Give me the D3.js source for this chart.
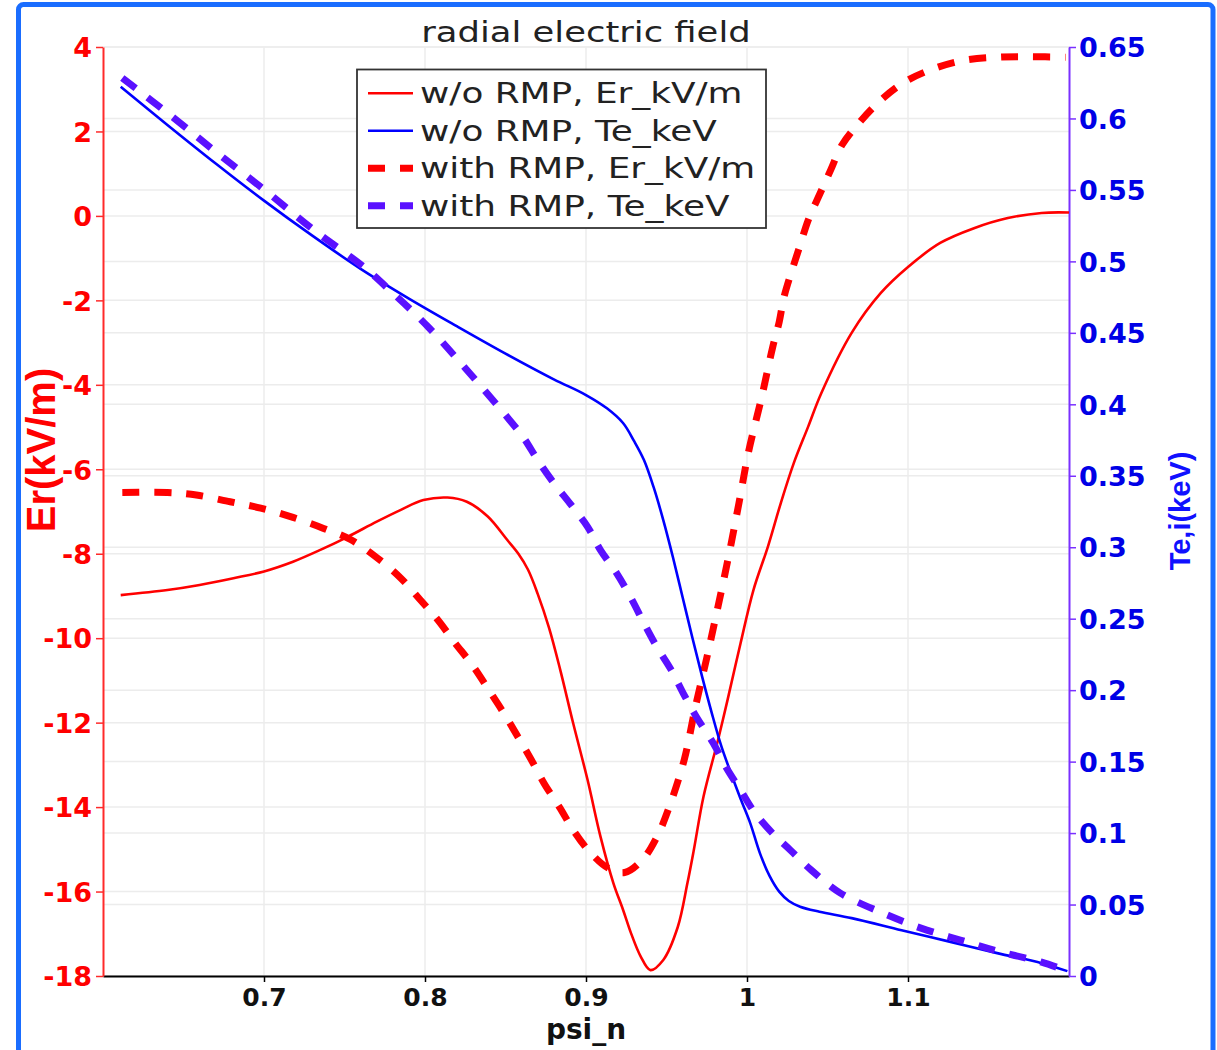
<!DOCTYPE html>
<html><head><meta charset="utf-8">
<script src="https://cdn.jsdelivr.net/npm/d3@7/dist/d3.min.js"></script>
<style>body{margin:0;background:#fff}svg{display:block}</style>
</head><body>
<svg id="c" width="1217" height="1050"></svg>
<script>
// ---- data ----
const psiErNoRmp = [0.611,0.640,0.660,0.681,0.700,0.718,0.735,0.752,0.770,0.785,0.799,0.814,0.826,0.839,0.851,0.858,0.864,0.870,0.877,0.884,0.892,0.901,0.909,0.917,0.923,0.928,0.934,0.940,0.948,0.957,0.963,0.967,0.973,0.982,0.988,0.996,1.004,1.013,1.021,1.029,1.038,1.046,1.065,1.083,1.100,1.120,1.141,1.162,1.183,1.200];
const erNoRmp    = [-8.98,-8.86,-8.74,-8.58,-8.42,-8.19,-7.91,-7.60,-7.24,-6.96,-6.73,-6.67,-6.77,-7.12,-7.67,-8.00,-8.38,-8.95,-9.75,-10.75,-12.01,-13.36,-14.70,-15.80,-16.43,-16.99,-17.54,-17.86,-17.62,-16.84,-15.80,-15.01,-13.75,-12.41,-11.45,-10.12,-8.86,-7.83,-6.80,-5.86,-4.99,-4.21,-2.77,-1.83,-1.21,-0.64,-0.29,-0.05,0.07,0.08];

const psiErRmp = [0.612,0.640,0.658,0.679,0.698,0.718,0.737,0.754,0.772,0.785,0.797,0.808,0.818,0.830,0.839,0.849,0.857,0.866,0.874,0.884,0.892,0.903,0.914,0.924,0.935,0.944,0.951,0.961,0.968,0.975,0.982,0.989,0.995,1.001,1.009,1.016,1.020,1.023,1.028,1.033,1.038,1.045,1.052,1.059,1.070,1.082,1.097,1.114,1.134,1.156,1.176,1.198];
const erRmp    = [-6.55,-6.55,-6.61,-6.77,-6.92,-7.14,-7.40,-7.67,-8.15,-8.58,-9.09,-9.57,-10.08,-10.67,-11.19,-11.78,-12.29,-12.88,-13.44,-14.03,-14.54,-15.09,-15.45,-15.55,-15.25,-14.71,-14.07,-12.88,-11.62,-10.47,-9.25,-7.98,-6.80,-5.58,-4.31,-3.10,-2.51,-1.92,-1.28,-0.69,-0.10,0.50,1.09,1.68,2.22,2.70,3.15,3.46,3.68,3.76,3.77,3.76];

const psiTeNoRmp = [0.611,0.640,0.670,0.700,0.730,0.760,0.790,0.820,0.850,0.880,0.900,0.913,0.923,0.930,0.936,0.942,0.948,0.954,0.960,0.966,0.972,0.978,0.984,0.990,0.996,1.002,1.008,1.014,1.020,1.026,1.033,1.045,1.065,1.096,1.127,1.158,1.183,1.199];
const teNoRmp    = [0.6222,0.5955,0.5685,0.5425,0.5180,0.4948,0.4740,0.4545,0.4355,0.4175,0.4065,0.3972,0.3869,0.3740,0.3610,0.3420,0.3190,0.2930,0.2650,0.2370,0.2100,0.1845,0.1610,0.1420,0.1240,0.1070,0.0860,0.0700,0.0590,0.0525,0.0485,0.0450,0.0405,0.0320,0.0237,0.0153,0.0090,0.0034];

const psiTeRmp = [0.612,0.644,0.671,0.702,0.731,0.762,0.778,0.802,0.826,0.851,0.861,0.870,0.880,0.890,0.901,0.909,0.919,0.928,0.936,0.944,0.953,0.961,0.969,0.979,0.987,0.996,1.005,1.017,1.027,1.040,1.058,1.083,1.108,1.133,1.158,1.183,1.199];
const teRmp    = [0.6283,0.6003,0.5758,0.5485,0.5219,0.4961,0.4800,0.4541,0.4240,0.3911,0.3770,0.3610,0.3449,0.3307,0.3143,0.2980,0.2819,0.2644,0.2469,0.2303,0.2140,0.1965,0.1805,0.1630,0.1461,0.1300,0.1140,0.0986,0.0880,0.0740,0.0580,0.0447,0.0335,0.0250,0.0167,0.0097,0.0034];

const xTicks = [0.7,0.8,0.9,1,1.1];
const xTickLabels = ["0.7","0.8","0.9","1","1.1"];
const erTicks = [-18,-16,-14,-12,-10,-8,-6,-4,-2,0,2,4];
const erTickLabels = ["-18","-16","-14","-12","-10","-8","-6","-4","-2","0","2","4"];
const teTicks = [0,0.05,0.1,0.15,0.2,0.25,0.3,0.35,0.4,0.45,0.5,0.55,0.6,0.65];
const teTickLabels = ["0","0.05","0.1","0.15","0.2","0.25","0.3","0.35","0.4","0.45","0.5","0.55","0.6","0.65"];
const legendLabels = ["w/o RMP, Er_kV/m","w/o RMP, Te_keV","with RMP, Er_kV/m","with RMP, Te_keV"];

// ---- drawing ----
const svg = d3.select("#c");
const X0=103, X1=1069, YT=47, YB=976;
const x = d3.scaleLinear().domain([0.6,1.2]).range([X0,X1]);
const yEr = d3.scaleLinear().domain([-18,4]).range([YB,YT]);
const yTe = d3.scaleLinear().domain([0,0.65]).range([YB,YT]);

const RED="#ff0000", BLUE="#0000ff", PURP="#5a10ff";
const FONT="'DejaVu Sans', sans-serif";

// frame
svg.append("rect").attr("x",18.5).attr("y",4.5).attr("width",1194.5).attr("height",1100)
  .attr("rx",5).attr("fill","none").attr("stroke","#1a6dff").attr("stroke-width",5);

// grid
const grid = svg.append("g").attr("stroke","#ececec").attr("stroke-width",1.5);
xTicks.forEach(t=>grid.append("line").attr("x1",x(t)).attr("x2",x(t)).attr("y1",YT).attr("y2",YB));
erTicks.forEach(t=>grid.append("line").attr("x1",X0).attr("x2",X1).attr("y1",yEr(t)).attr("y2",yEr(t)));
teTicks.forEach(t=>grid.append("line").attr("x1",X0).attr("x2",X1).attr("y1",yTe(t)).attr("y2",yTe(t)));

// axes
const axB = d3.axisBottom(x).tickValues(xTicks).tickFormat((d,i)=>xTickLabels[i]).tickSize(6).tickSizeOuter(0);
const gB = svg.append("g").attr("transform",`translate(0,${YB})`).call(axB);
gB.select(".domain").attr("stroke","#000").attr("stroke-width",2);
gB.selectAll(".tick line").attr("stroke","#000").attr("stroke-width",1.5);
gB.selectAll(".tick text").attr("font-family",FONT).attr("font-weight","bold").attr("font-size",25).attr("fill","#111").attr("dy","0.85em");

const axL = d3.axisLeft(yEr).tickValues(erTicks).tickFormat((d,i)=>erTickLabels[i]).tickSize(7).tickSizeOuter(0);
const gL = svg.append("g").attr("transform",`translate(${X0},0)`).call(axL);
gL.select(".domain").attr("stroke","#ff2a2a").attr("stroke-width",2);
gL.selectAll(".tick line").attr("stroke","#ff2a2a").attr("stroke-width",1.5);
gL.selectAll(".tick text").attr("font-family",FONT).attr("font-weight","bold").attr("font-size",27).attr("fill",RED).attr("x",-11).attr("dy","0.36em");

const axR = d3.axisRight(yTe).tickValues(teTicks).tickFormat((d,i)=>teTickLabels[i]).tickSize(7).tickSizeOuter(0);
const gR = svg.append("g").attr("transform",`translate(${X1},0)`).call(axR);
gR.select(".domain").attr("stroke","#7a30ff").attr("stroke-width",2);
gR.selectAll(".tick line").attr("stroke","#7a30ff").attr("stroke-width",1.5);
gR.selectAll(".tick text").attr("font-family",FONT).attr("font-weight","bold").attr("font-size",27).attr("fill","#0000e6").attr("x",10).attr("dy","0.36em");

// curves
const mk = (xs,ys,ys_) => xs.map((v,i)=>[x(v),ys_(ys[i])]);
const line = d3.line().curve(d3.curveCatmullRom.alpha(0.5));
svg.append("path").attr("d",line(mk(psiErNoRmp,erNoRmp,yEr))).attr("fill","none").attr("stroke",RED).attr("stroke-width",2.6);
svg.append("path").attr("d",line(mk(psiErRmp,erRmp,yEr))).attr("fill","none").attr("stroke",RED).attr("stroke-width",7).attr("stroke-dasharray","17,15");
svg.append("path").attr("d",line(mk(psiTeNoRmp,teNoRmp,yTe))).attr("fill","none").attr("stroke",BLUE).attr("stroke-width",2.6);
svg.append("path").attr("d",line(mk(psiTeRmp,teRmp,yTe))).attr("fill","none").attr("stroke",PURP).attr("stroke-width",7).attr("stroke-dasharray","17,15");

// title
const stretch = (sel,f)=>sel.each(function(){const w=this.getComputedTextLength();this.setAttribute("textLength",w*f);this.setAttribute("lengthAdjust","spacingAndGlyphs");});
svg.append("text").attr("x",586).attr("y",42).attr("text-anchor","middle").attr("font-family",FONT)
  .attr("font-size",29).attr("fill","#222").text("radial electric field").call(stretch,1.22);

// legend
const lg = svg.append("g");
lg.append("rect").attr("x",357).attr("y",69.5).attr("width",409).attr("height",158.5).attr("fill","#fff").attr("stroke","#333").attr("stroke-width",1.8);
const styles=[{c:RED,w:2.6,d:null},{c:BLUE,w:2.6,d:null},{c:RED,w:7,d:"17,15"},{c:PURP,w:7,d:"17,15"}];
legendLabels.forEach((t,i)=>{
  const yy = 93.3 + i*37.5;
  const l = lg.append("line").attr("x1",368).attr("x2",413).attr("y1",yy).attr("y2",yy).attr("stroke",styles[i].c).attr("stroke-width",styles[i].w);
  if(styles[i].d) l.attr("stroke-dasharray",styles[i].d);
  lg.append("text").attr("x",420).attr("y",yy+10).attr("font-family",FONT).attr("font-size",28).attr("fill","#222").text(t).call(stretch,1.28);
});

// axis titles
svg.append("text").attr("transform","translate(55,450) rotate(-90)").attr("text-anchor","middle")
  .attr("font-family","'Liberation Sans', Arial, sans-serif").attr("font-weight","bold").attr("font-size",40).attr("fill",RED).text("Er(kV/m)");
svg.append("text").attr("transform","translate(1190,511) rotate(-90)").attr("text-anchor","middle")
  .attr("font-family","'Liberation Sans', Arial, sans-serif").attr("font-weight","bold").attr("font-size",29).attr("fill","#1010ff").text("Te,i(keV)");
svg.append("text").attr("x",586).attr("y",1039).attr("text-anchor","middle")
  .attr("font-family",FONT).attr("font-weight","bold").attr("font-size",28).attr("fill","#111").text("psi_n");
</script>
</body></html>
